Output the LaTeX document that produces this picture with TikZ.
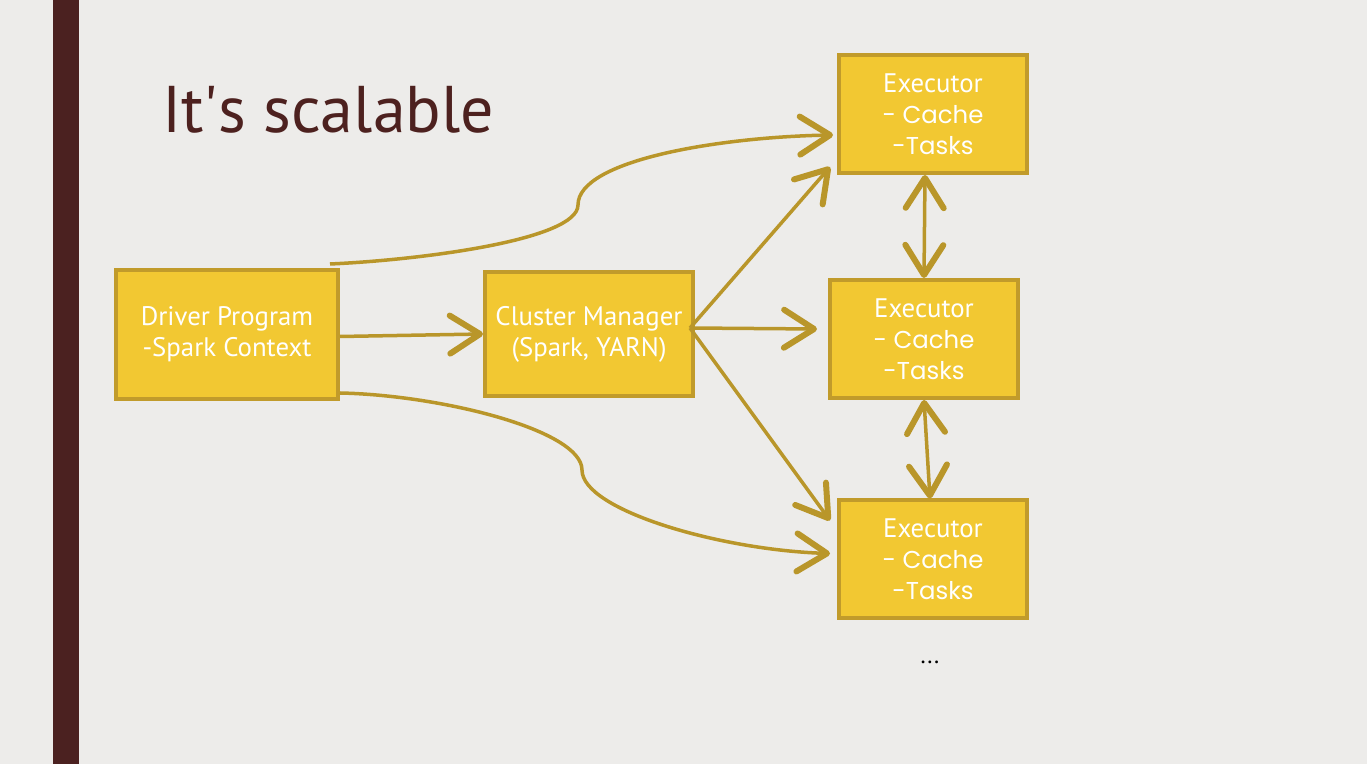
\documentclass[tikz,border=0pt]{standalone}
\usepackage{fontspec}
\setmainfont{PT Sans}
\newfontfamily\geo{Poppins}
\usetikzlibrary{arrows.meta}
\definecolor{slidebg}{HTML}{EDECEA}
\definecolor{sidebar}{HTML}{4B2120}
\definecolor{titlebrown}{HTML}{4D211F}
\definecolor{boxfill}{HTML}{F2C832}
\definecolor{boxline}{HTML}{C19B2B}
\definecolor{arrowgold}{HTML}{B9962A}
\begin{document}
\begin{tikzpicture}[x=0.5pt,y=-0.5pt,
  box/.style={draw=boxline,fill=boxfill,line width=2pt,text=white,align=center,font=\fontsize{13.4}{15.5}\selectfont},
  exec/.style={box,minimum width=94pt,minimum height=59pt},
  barb/.tip={Straight Barb[length=15pt,width=19pt,line width=3pt,round]},
  link/.style={draw=arrowgold,line width=1.75pt,-barb},
  both/.style={draw=arrowgold,line width=1.75pt,barb-barb}]
  \useasboundingbox (0,0) rectangle (1367,764);
  \fill[slidebg] (0,0) rectangle (1367,764);
  \fill[sidebar] (53,0) rectangle (79,764);
  \node[anchor=base west,text=titlebrown,font=\fontsize{33}{36}\selectfont] (title) at (155,133) {It\textquotesingle s scalable};

  \node[box,minimum width=111pt,minimum height=64.5pt] (driver) at (227,334.5) {Driver Program\\ -Spark Context};
  \node[box,minimum width=104pt,minimum height=62pt] (cm) at (589,334) {Cluster Manager\\(Spark, YARN)};
  \node[exec] (e1) at (933,114) {Executor\\{\geo\fontsize{12.2}{15.5}\selectfont - Cache}\\{\geo\fontsize{12.2}{15.5}\selectfont -Tasks}};
  \node[exec] (e2) at (924,339) {Executor\\{\geo\fontsize{12.2}{15.5}\selectfont - Cache}\\{\geo\fontsize{12.2}{15.5}\selectfont -Tasks}};
  \node[exec] (e3) at (933,559.5) {Executor\\{\geo\fontsize{12.2}{15.5}\selectfont - Cache}\\{\geo\fontsize{12.2}{15.5}\selectfont -Tasks}};
  \node[font=\fontsize{12}{14}\selectfont] (more) at (930,662) {...};

  \draw[link] ([xshift=-5pt,yshift=2pt]driver.north east) .. controls (420,260) and (578,240) .. (578,205)
    .. controls (578,160) and (720,137) .. ([xshift=-2pt,yshift=-10.5pt]e1.west);
  \draw[link] ([yshift=4pt]driver.south east) .. controls (440,395) and (582,430) .. (582,470)
    .. controls (582,510) and (720,550) .. ([xshift=-3.5pt,yshift=3pt]e3.west);
  \draw[link] ([yshift=-1pt]driver.east) -- (cm.west);
  \draw[link] ([xshift=-2.5pt,yshift=3pt]cm.east) -- ([xshift=-3.5pt,yshift=4pt]e1.south west);
  \draw[link] ([xshift=-2.5pt,yshift=3pt]cm.east) -- ([xshift=-5.5pt,yshift=5pt]e2.west);
  \draw[link] ([xshift=-2.5pt,yshift=3pt]cm.east) -- ([xshift=-3.5pt,yshift=-11pt]e3.north west);
  \draw[both] ([xshift=-4pt]e1.south) -- (e2.north);
  \draw[both] (e2.south) -- ([xshift=-1.5pt]e3.north);
\end{tikzpicture}
\end{document}
